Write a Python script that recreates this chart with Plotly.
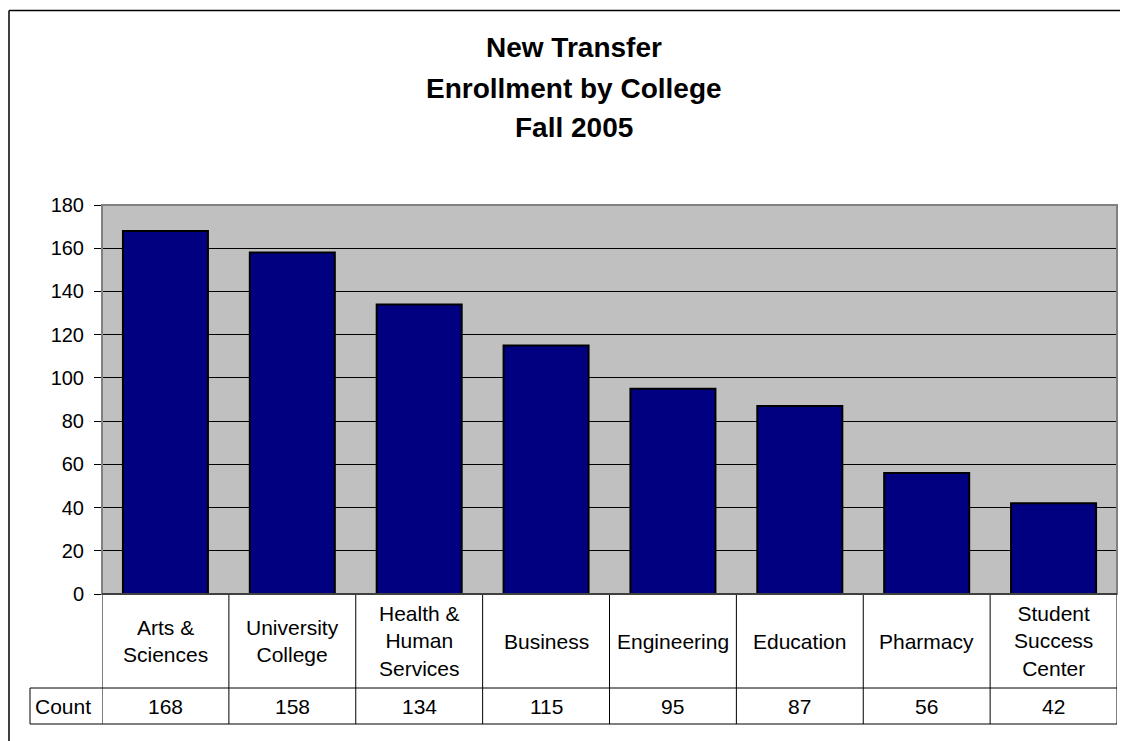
import plotly.graph_objects as go

colleges = ["Arts &<br>Sciences", "University<br>College", "Health &<br>Human<br>Services",
            "Business", "Engineering", "Education", "Pharmacy", "Student<br>Success<br>Center"]
counts = [168, 158, 134, 115, 95, 87, 56, 42]
title_lines = ["New Transfer", "Enrollment by College", "Fall 2005"]
y_ticks = list(range(0, 181, 20))

FONT = "Liberation Sans, Arial, sans-serif"
OFF = 8  # page body margin
W, H = 1128 - OFF, 741 - OFF
# plot area edges in screen pixels
L, R, T, B = 102, 1117, 205, 594


def py(pix):
    # screen pixel row -> paper y
    return (B - pix) / (B - T)


def px_(pix):
    return (pix - L) / (R - L)


cats = list(range(len(colleges)))

fig = go.Figure()
fig.add_trace(go.Bar(
    x=cats, y=counts,
    marker=dict(color="#000080", line=dict(color="black", width=2)),
    width=0.67,
))

line = dict(color="black", width=1)
shapes = []
row1, row2 = py(688), py(724)
shapes.append(dict(type="line", xref="paper", yref="paper", x0=px_(30), x1=1,
                   y0=row1, y1=row1, line=line))
shapes.append(dict(type="line", xref="paper", yref="paper", x0=px_(30), x1=1,
                   y0=row2, y1=row2, line=line))
shapes.append(dict(type="line", xref="paper", yref="paper", x0=px_(30), x1=px_(30),
                   y0=row1, y1=row2, line=line))
for i in range(len(cats) + 1):
    shapes.append(dict(type="line", xref="x", yref="paper", x0=i - 0.5, x1=i - 0.5,
                       y0=0, y1=row2, line=line))
# outer chart border (only top and left fall inside the picture)
outer = dict(color="black", width=1.5)
shapes.append(dict(type="line", xref="paper", yref="paper", x0=px_(9), x1=px_(1128),
                   y0=py(10.5), y1=py(10.5), line=outer))
shapes.append(dict(type="line", xref="paper", yref="paper", x0=px_(9), x1=px_(9),
                   y0=py(10.5), y1=py(741), line=outer))
# plot area border
shapes.append(dict(type="rect", xref="paper", yref="paper", x0=0, x1=1, y0=0, y1=1,
                   line=dict(color="#808080", width=2), layer="above"))
shapes.append(dict(type="line", xref="paper", yref="paper", x0=0, x1=1, y0=0, y1=0,
                   line=line, layer="above"))

tfont = dict(size=21, color="black", family=FONT)
annotations = []
for i, (lab, c) in enumerate(zip(colleges, counts)):
    annotations.append(dict(x=i, y=py(641), xref="x", yref="paper", text=lab,
                            xanchor="center", yanchor="middle", showarrow=False, font=tfont))
    annotations.append(dict(x=i, y=py(706), xref="x", yref="paper", text=str(c),
                            xanchor="center", yanchor="middle", showarrow=False, font=tfont))
annotations.append(dict(x=px_(33), y=py(706), xref="paper", yref="paper", text="Count",
                        xanchor="left", yanchor="middle", showarrow=False, font=tfont))
for text, yp in zip(title_lines, [47, 88, 128]):
    annotations.append(dict(x=px_(574), y=py(yp), xref="paper", yref="paper",
                            text="<b>%s</b>" % text, xanchor="center", yanchor="middle",
                            showarrow=False,
                            font=dict(size=28, color="black", family=FONT)))

fig.update_layout(
    width=W, height=H,
    margin=dict(l=L - OFF, r=1128 - R, t=T - OFF, b=741 - B),
    paper_bgcolor="white", plot_bgcolor="#C0C0C0",
    showlegend=False, bargap=0.33,
    font=dict(family=FONT, size=20, color="black"),
    shapes=shapes, annotations=annotations,
    xaxis=dict(range=[-0.5, len(cats) - 0.5], showticklabels=False, showgrid=False,
               zeroline=False, fixedrange=True),
    yaxis=dict(range=[0, 180], tickvals=y_ticks, showgrid=True, gridcolor="black",
               gridwidth=1, zeroline=False, ticks="outside", ticklen=7, tickcolor="black",
               ticklabelstandoff=6,
               tickfont=dict(size=20, color="black", family=FONT), fixedrange=True),
)

fig.write_html("out.html", config={"displayModeBar": False})
